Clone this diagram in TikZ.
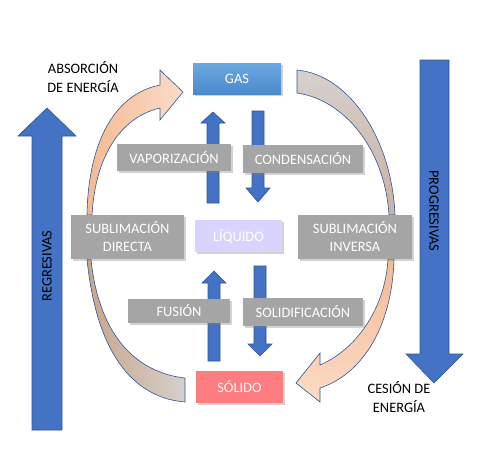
\documentclass[tikz,border=0pt]{standalone}
\usepackage{fontspec}
\setmainfont{Carlito}
\usetikzlibrary{shadows}
\definecolor{arrowblue}{HTML}{4472C4}
\definecolor{edgeblue}{HTML}{2F5597}
\definecolor{boxgray}{HTML}{A5A5A5}
\definecolor{liqcol}{HTML}{D9D4FF}
\definecolor{solcol}{HTML}{FF7C80}
\definecolor{gastop}{HTML}{6CA8E0}
\definecolor{gasbot}{HTML}{4A8ACC}
\definecolor{peachA}{HTML}{F4BA92}
\definecolor{peachB}{HTML}{FADCC7}
\definecolor{tanA}{HTML}{C8A58C}
\definecolor{grayB}{HTML}{D6D0CC}
\definecolor{tanB}{HTML}{C9B2A2}
\begin{document}
\begin{tikzpicture}[x=1pt,y=-1pt,
  font=\fontsize{14.4}{18}\selectfont,
  blockarrow/.style={fill=arrowblue, draw=edgeblue, line width=0.6pt, line join=miter},
  statebox/.style={inner sep=0pt, text=white, align=center,
    drop shadow={opacity=0.35, shadow xshift=1.5pt, shadow yshift=-1.5pt}},
  procbox/.style={statebox, fill=boxgray},
  bandshape/.style={draw=edgeblue, line width=0.6pt, line join=miter},
  note/.style={align=center, text=black, font=\fontsize{14.4}{19.5}\selectfont}]
\useasboundingbox (0,0) rectangle (503,466);

% big side arrows
\draw[blockarrow] (32,430) -- (32,136) -- (18,136) -- (47,108) -- (76,136) -- (62,136) -- (62,430) -- cycle;
\node[rotate=90] (reg) at (47,266) {REGRESIVAS};
\draw[blockarrow] (420,60) -- (449,60) -- (449,354) -- (463,354) -- (434,383) -- (406,354) -- (420,354) -- cycle;
\node[rotate=-90] (prog) at (434,211) {PROGRESIVAS};

% small vertical arrows
\draw[blockarrow] (207,203) -- (207,123) -- (201,123) -- (213,112) -- (225,123) -- (219,123) -- (219,203) -- cycle;
\draw[blockarrow] (252,111) -- (264,111) -- (264,188) -- (270,188) -- (258,202) -- (246,188) -- (252,188) -- cycle;
\draw[blockarrow] (208,361) -- (208,283) -- (202,283) -- (214,271) -- (226,283) -- (220,283) -- (220,361) -- cycle;
\draw[blockarrow] (254,266) -- (266,266) -- (266,344) -- (272,344) -- (260,356) -- (248,344) -- (254,344) -- cycle;

% curved bands
\path[bandshape, left color=peachA, right color=peachB]
  (87,215) .. controls (88,150) and (110,95) .. (160,85) -- (160,70) -- (183,92) -- (160,120) -- (160,108)
  .. controls (118,118) and (95,160) .. (92,215) -- cycle;
\path[bandshape, top color=grayB, bottom color=tanB]
  (297,70) .. controls (350,75) and (392,140) .. (395,215) -- (389,215)
  .. controls (385,150) and (345,100) .. (297,93) -- cycle;
\path[bandshape, left color=tanA, right color=grayB]
  (87,259) .. controls (95,340) and (125,397) .. (185,402) -- (185,378)
  .. controls (132,372) and (98,330) .. (91,259) -- cycle;
\path[bandshape, top color=peachA, bottom color=peachB]
  (394,259) .. controls (392,330) and (360,375) .. (320,388) -- (320,402) -- (296,383) -- (320,353) -- (320,365)
  .. controls (355,350) and (385,310) .. (388,259) -- cycle;

% boxes
\node[statebox, top color=gastop, bottom color=gasbot, minimum width=88pt, minimum height=31pt] (gas) at (237,78.5) {GAS};
\node[procbox, minimum width=114pt, minimum height=27pt] (vap) at (174,157.5) {VAPORIZACIÓN};
\node[procbox, minimum width=120pt, minimum height=28pt] (cond) at (303,159) {CONDENSACIÓN};
\node[procbox, minimum width=113pt, minimum height=44pt] (subd) at (127.5,237) {SUBLIMACIÓN\\DIRECTA};
\node[statebox, fill=liqcol, minimum width=87pt, minimum height=32pt] (liq) at (238.5,236) {LÍQUIDO};
\node[procbox, minimum width=114pt, minimum height=44pt] (subi) at (355,237) {SUBLIMACIÓN\\INVERSA};
\node[procbox, minimum width=102pt, minimum height=24pt] (fus) at (179,311) {FUSIÓN};
\node[procbox, minimum width=120pt, minimum height=28pt] (solid) at (303,312) {SOLIDIFICACIÓN};
\node[statebox, fill=solcol, minimum width=87pt, minimum height=32pt] (sol) at (239.5,387) {SÓLIDO};

% notes
\node[note] (abs) at (83,77) {ABSORCIÓN\\DE ENERGÍA};
\node[note] (ces) at (399,397) {CESIÓN DE\\ENERGÍA};
\end{tikzpicture}
\end{document}
